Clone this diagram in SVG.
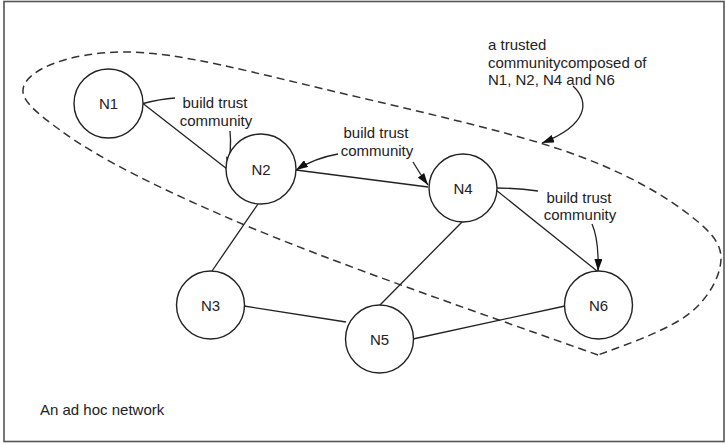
<svg xmlns="http://www.w3.org/2000/svg" width="726" height="444" viewBox="0 0 726 444">
<defs>
<style>
text{font-family:"Liberation Sans",Arial,sans-serif;font-size:15px;fill:#222}
.node circle{fill:#fff;stroke:#222;stroke-width:1.4}
.node text{text-anchor:middle}
.edge{fill:none;stroke:#222;stroke-width:1.3}
.arr{fill:none;stroke:#222;stroke-width:1.3;marker-end:url(#ah)}
.lbl{text-anchor:middle}
</style>
<marker id="ah" viewBox="0 0 12 8" refX="12" refY="4" markerWidth="12" markerHeight="8" markerUnits="userSpaceOnUse" orient="auto">
<path d="M0,0 L12,4 L0,8 Z" fill="#111"/>
</marker>
</defs>
<rect x="0" y="0" width="726" height="444" fill="#fff"/>
<rect x="4" y="1.5" width="720" height="440" fill="none" stroke="#555" stroke-width="1.6"/>
<g id="community-boundary">
<path d="M598,355 C500,320 330,262 233,220 C170,193 100,160 60,130 C35,112 22,100 23,90 C24,70 70,52 125,52 C180,52 250,72 362,98 C430,114 490,128 540,143 C600,161 650,185 687,213 C705,227 721,240 721,258 C721,278 705,305 680,320 C655,335 625,345 598,355 Z" fill="none" stroke="#333" stroke-width="1.5" stroke-dasharray="8,5"/>
</g>
<g id="connectors">
<line class="edge" x1="143" y1="103.5" x2="227" y2="169"/>
<line class="edge" x1="296" y1="170" x2="428" y2="187"/>
<line class="edge" x1="258" y1="204" x2="212" y2="271"/>
<line class="edge" x1="244" y1="306" x2="346" y2="322"/>
<line class="edge" x1="462" y1="222" x2="380" y2="305"/>
<line class="edge" x1="496" y1="190" x2="597" y2="271"/>
<line class="edge" x1="413" y1="339" x2="565" y2="306"/>
<path class="edge" d="M143,103.5 Q160,99 175,98"/>
<path class="edge" d="M496,188 Q518,188 538,191"/>
<path class="arr" d="M230,131 Q232,150 227,169"/>
<path class="arr" d="M338,154 Q315,158 296,170"/>
<path class="arr" d="M413,162 Q420,174 428,185"/>
<path class="arr" d="M592,224 Q599,240 598,271"/>
<path class="arr" d="M573,86 C590,102 588,125 542,143"/>
</g>
<g id="N1" class="node"><circle cx="108.5" cy="103.5" r="34.5"/><text x="108.5" y="109">N1</text></g>
<g id="N2" class="node"><circle cx="261" cy="169" r="35"/><text x="261" y="175">N2</text></g>
<g id="N3" class="node"><circle cx="210.5" cy="305" r="34"/><text x="210.5" y="310.5">N3</text></g>
<g id="N4" class="node"><circle cx="463" cy="188" r="34"/><text x="463" y="193.5">N4</text></g>
<g id="N5" class="node"><circle cx="379.5" cy="339" r="34"/><text x="379.5" y="344.5">N5</text></g>
<g id="N6" class="node"><circle cx="598.5" cy="305" r="34"/><text x="598.5" y="310.5">N6</text></g>
<g id="labels">
<text class="lbl" x="215" y="108">build trust</text>
<text class="lbl" x="216" y="126">community</text>
<text class="lbl" x="376" y="138">build trust</text>
<text class="lbl" x="377" y="156">community</text>
<text class="lbl" x="579" y="203">build trust</text>
<text class="lbl" x="580" y="220">community</text>
<text x="488" y="50">a trusted</text>
<text x="488" y="68">communitycomposed of</text>
<text x="488" y="85">N1, N2, N4 and N6</text>
<text x="40" y="415">An ad hoc network</text>
</g>
</svg>
